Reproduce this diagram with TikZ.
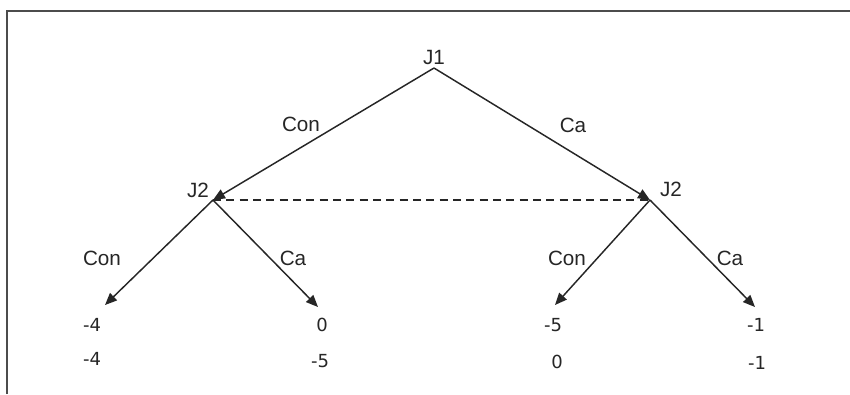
\documentclass[tikz,border=0pt]{standalone}
\usepackage{fontspec}
\setmainfont{Liberation Sans}
\newfontfamily\numfont{DejaVu Sans}
\usetikzlibrary{arrows.meta}
\begin{document}
\begin{tikzpicture}[x=0.75pt,y=-0.75pt,
  edge/.style={draw=black!85,line width=1.1pt,-{Triangle[length=9pt,width=7.5pt]}},
  lbl/.style={font=\fontsize{15.5}{18}\selectfont,inner sep=0pt,text=black!85},
  pay/.style={font=\numfont\fontsize{13.5}{16}\selectfont,inner sep=0pt,text=black!85},
  frame/.style={draw=black!70,line width=1.6pt}]
\useasboundingbox (0,0) rectangle (850,394);
\draw[frame] (7,394) -- (7,11) -- (851,11);
% decision points
\coordinate (a) at (434,68);
\coordinate (l) at (213,200);
\coordinate (r) at (650,200);
\coordinate (ll) at (105,305);
\coordinate (lr) at (318,307);
\coordinate (rl) at (555,305);
\coordinate (rr) at (755,307);
% edges
\draw[edge] (a) -- (l);
\draw[edge] (a) -- (r);
\draw[edge] (l) -- (ll);
\draw[edge] (l) -- (lr);
\draw[edge] (r) -- (rl);
\draw[edge] (r) -- (rr);
\draw[draw=black!85,line width=1.1pt,dash pattern=on 6pt off 4pt] (l) -- (r);
% labels
\node[lbl] (j1) at (434,57) {J1};
\node[lbl] (j2l) at (198,190) {J2};
\node[lbl] (j2r) at (671,189) {J2};
\node[lbl] (c1) at (301,124) {Con};
\node[lbl] (c2) at (573,125) {Ca};
\node[lbl] (c3) at (102,258) {Con};
\node[lbl] (c4) at (293,258) {Ca};
\node[lbl] (c5) at (567,258) {Con};
\node[lbl] (c6) at (730,258) {Ca};
% payoffs
\node[pay] (p1) at (92,325) {-4};
\node[pay] (p2) at (92,359) {-4};
\node[pay] (p3) at (322,325) {0};
\node[pay] (p4) at (320,361) {-5};
\node[pay] (p5) at (553,325) {-5};
\node[pay] (p6) at (557,362) {0};
\node[pay] (p7) at (756,325) {-1};
\node[pay] (p8) at (757,363) {-1};
\end{tikzpicture}
\end{document}
